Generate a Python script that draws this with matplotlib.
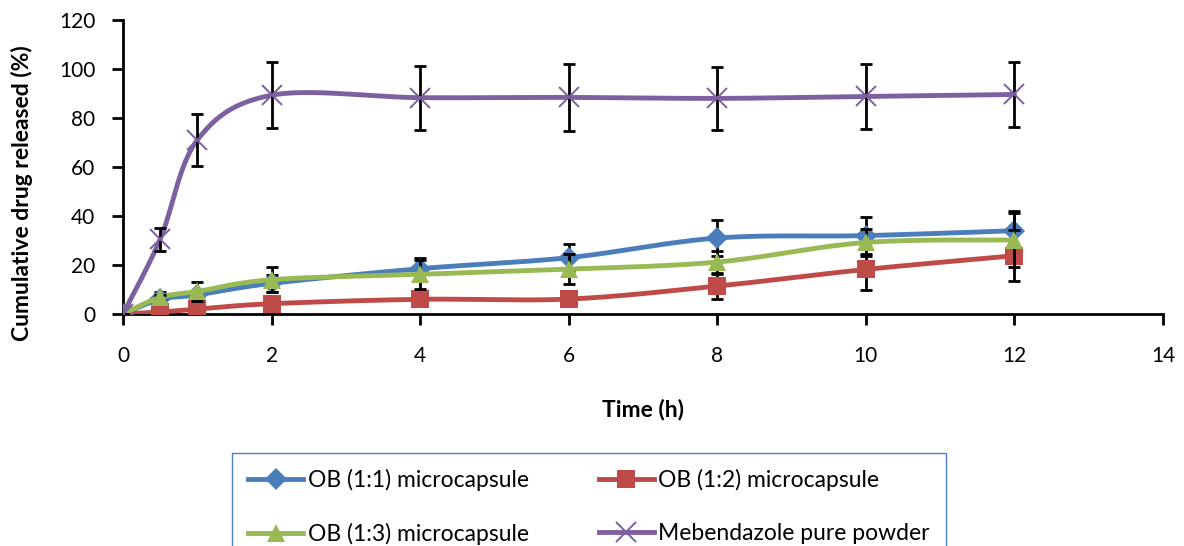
import numpy as np
import matplotlib
matplotlib.use('Agg')
import matplotlib.pyplot as plt
from matplotlib.lines import Line2D

plt.rcParams['font.family'] = ['Lato', 'DejaVu Sans']

# data
time_h = [0, 0.5, 1, 2, 4, 6, 8, 10, 12]

ob11 = [0, 6, 7.8, 12.5, 18.5, 23, 31, 32, 34]
ob11_err = [0, 3, 1.5, 3.5, 4.2, 5.4, 7.5, 7.4, 8]

ob12 = [0, 0.8, 2, 4.2, 6, 6.1, 11.4, 18.2, 23.8]
ob12_err = [0, 0.5, 1, 1.5, 2, 2, 5.4, 8.2, 10.5]

ob13 = [0, 6.8, 9.2, 14, 16.2, 18.3, 21.2, 29.2, 30.2]
ob13_err = [0, 1, 3.7, 5, 5.8, 6, 4.7, 5.5, 11]

mbz = [0, 30.5, 71, 89.3, 88.3, 88.4, 88, 88.8, 89.6]
mbz_err = [0, 4.6, 10.5, 13.5, 13, 13.6, 13, 13.4, 13.4]

labels = ['OB (1:1) microcapsule', 'OB (1:2) microcapsule',
          'OB (1:3) microcapsule', 'Mebendazole pure powder']
colors = ['#4A7EBB', '#BE4B48', '#98B954', '#7D60A0']
markers = ['D', 's', '^', 'x']
msizes = [11, 13, 13, 14]


def smooth(x, y, n=30):
    # Excel-like smoothed line (Bezier through the points)
    pts = np.column_stack([x, y]).astype(float)
    pad = np.vstack([pts[0], pts, pts[-1]])
    out = []
    t = np.linspace(0, 1, n)[:, None]
    for i in range(len(pts) - 1):
        p0, p1, p2, p3 = pad[i], pad[i + 1], pad[i + 2], pad[i + 3]
        c1 = p1 + (p2 - p0) / 6
        c2 = p2 - (p3 - p1) / 6
        b = ((1 - t) ** 3) * p1 + 3 * ((1 - t) ** 2) * t * c1 \
            + 3 * (1 - t) * t ** 2 * c2 + t ** 3 * p2
        out.append(b)
    out = np.vstack(out)
    return out[:, 0], out[:, 1]


fig = plt.figure(figsize=(11.84, 5.46), dpi=100)
ax = fig.add_axes([123 / 1184, 1 - 314 / 546, 1040 / 1184, 294 / 546])

series = [(ob11, ob11_err), (ob12, ob12_err), (ob13, ob13_err), (mbz, mbz_err)]
handles = []
for i, (vals, err) in enumerate(series):
    z = 3 + i
    sx, sy = smooth(time_h, vals)
    ax.plot(sx, sy, color=colors[i], lw=3.5, zorder=z, solid_capstyle='round')
    ax.errorbar(time_h, vals, yerr=err, fmt='none', ecolor='black',
                elinewidth=2, capsize=4, capthick=2, zorder=z)
    mew = 1.4 if markers[i] == 'x' else 0
    ax.plot(time_h, vals, ls='none', marker=markers[i], ms=msizes[i],
            mew=mew, color=colors[i], zorder=z + 0.5)
    handles.append(Line2D([], [], color=colors[i], lw=3.5, marker=markers[i],
                          ms=msizes[i], mew=mew))

ax.set_xlim(0, 14)
ax.set_ylim(0, 120)
ax.set_xticks(np.arange(0, 15, 2))
ax.set_yticks(np.arange(0, 121, 20))
for s in ['top', 'right']:
    ax.spines[s].set_visible(False)
for s in ['left', 'bottom']:
    ax.spines[s].set_linewidth(2)
ax.tick_params(axis='x', direction='out', length=8, width=2, pad=15, labelsize=15)
ax.tick_params(axis='y', direction='out', length=8, width=2, pad=12, labelsize=15)

fig.text(22 / 1184, 1 - 193 / 546, 'Cumulative drug released (%)', rotation=90,
         ha='center', va='center', fontsize=16.5, fontweight='bold')
fig.text(643 / 1184, 1 - 409 / 546, 'Time (h)', ha='center', va='center',
         fontsize=16.5, fontweight='bold')

# legend is filled column by column, so order gives rows: 1:1, 1:2 / 1:3, pure
order = [0, 2, 1, 3]
leg = fig.legend([handles[k] for k in order], [labels[k] for k in order],
                 loc='upper left', ncol=2,
                 bbox_to_anchor=(232 / 1184, 1 - 458 / 546, 714 / 1184, 0.01),
                 mode='expand', borderaxespad=0, fontsize=16.5,
                 handlelength=2.4, handletextpad=0.2, labelspacing=1.4,
                 borderpad=0.7, fancybox=False, framealpha=1)
leg.get_frame().set_edgecolor('#4F81BD')
leg.get_frame().set_linewidth(1)

fig.savefig('out.png', dpi=100)
